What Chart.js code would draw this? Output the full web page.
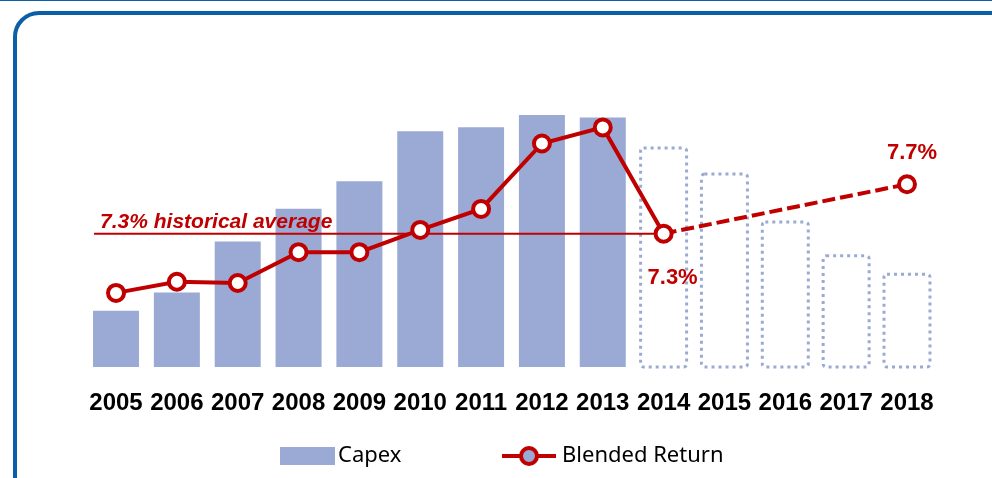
<!DOCTYPE html>
<html>
<head>
<meta charset="utf-8">
<script src="https://cdn.jsdelivr.net/npm/chart.js@4/dist/chart.umd.min.js"></script>
<style>
  html, body { margin: 0; padding: 0; background: #fff; overflow: hidden; }
  .wrap { position: relative; width: 992px; height: 478px; }
  .topline { position: absolute; left: 0; top: 0; width: 992px; height: 1px; background: #0b5ea8; }
  .frame { position: absolute; left: 13px; top: 11px; width: 1100px; height: 600px;
           border: 4px solid #0b5ea8; border-radius: 26px; }
  canvas { position: absolute; left: 0; top: 0; }
</style>
</head>
<body>
<div class="wrap">
  <div class="topline"></div>
  <div class="frame"></div>
  <canvas id="chart" width="992" height="478"></canvas>
</div>
<script>
// years on the x axis
var years = ['2005', '2006', '2007', '2008', '2009', '2010', '2011', '2012', '2013',
             '2014', '2015', '2016', '2017', '2018'];
// capex, 2014 onwards is forecast
var capex = [11.0, 14.6, 24.6, 31.0, 36.4, 46.2, 47.0, 49.4, 48.9, 42.9, 37.8, 28.4, 21.8, 18.2];
// blended return (%), only 2014 and 2018 given for the forecast
var blendedReturn = [6.82, 6.91, 6.90, 7.15, 7.15, 7.33, 7.50, 8.03, 8.16, 7.3, null, null, null, 7.7];
var historicalAverage = 7.3;
var firstForecast = 9;

var blue = 'rgb(155, 170, 212)';
var red = 'rgb(192, 0, 0)';

// dotted forecast bars, average line and the labels
var overlay = {
    id: 'overlay',
    afterDatasetDraw: function (chart, args) {
        if (args.index !== 0) return;
        var ctx = chart.ctx;
        var bars = chart.getDatasetMeta(0).data;
        ctx.save();
        ctx.strokeStyle = blue;
        ctx.lineWidth = 3;
        ctx.setLineDash([3, 4]);
        for (var i = firstForecast; i < bars.length; i++) {
            var b = bars[i];
            ctx.beginPath();
            ctx.roundRect(b.x - b.width / 2, b.y, b.width, b.base - b.y, 3);
            ctx.stroke();
        }
        ctx.setLineDash([]);

        var y1 = chart.scales.y1;
        var avgY = y1.getPixelForValue(historicalAverage);
        var pts = chart.getDatasetMeta(1).data;
        var x0 = bars[0].x - bars[0].width / 2 + 1;
        ctx.strokeStyle = red;
        ctx.lineWidth = 2;
        ctx.beginPath();
        ctx.moveTo(x0, avgY);
        ctx.lineTo(pts[firstForecast].x, avgY);
        ctx.stroke();

        ctx.fillStyle = red;
        ctx.textBaseline = 'alphabetic';
        ctx.textAlign = 'left';
        ctx.font = 'italic bold 21px "Liberation Sans", Arial, sans-serif';
        ctx.fillText(historicalAverage.toFixed(1) + '% historical average', x0 + 6, avgY - 6);
        ctx.restore();
    },
    afterDatasetsDraw: function (chart) {
        var ctx = chart.ctx;
        var pts = chart.getDatasetMeta(1).data;
        var last = pts.length - 1;
        ctx.save();
        ctx.fillStyle = red;
        ctx.textAlign = 'center';
        ctx.textBaseline = 'alphabetic';
        ctx.font = 'bold 22px "Liberation Sans", Arial, sans-serif';
        ctx.fillText(blendedReturn[last].toFixed(1) + '%', pts[last].x + 5, pts[last].y - 25);
        ctx.fillText(blendedReturn[firstForecast].toFixed(1) + '%', pts[firstForecast].x + 9, pts[firstForecast].y + 50);

        // legend
        var lx = chart.width / 2 - 216;
        var ly = 456;
        ctx.fillStyle = blue;
        ctx.fillRect(lx, ly - 9, 55, 18);
        ctx.fillStyle = '#000';
        ctx.textAlign = 'left';
        ctx.textBaseline = 'middle';
        ctx.font = '22px "Noto Sans", sans-serif';
        ctx.fillText('Capex', lx + 58, ly);

        var mx = lx + 222;
        ctx.strokeStyle = red;
        ctx.lineWidth = 4;
        ctx.beginPath();
        ctx.moveTo(mx, ly);
        ctx.lineTo(mx + 54, ly);
        ctx.stroke();
        ctx.beginPath();
        ctx.arc(mx + 27, ly, 8, 0, Math.PI * 2);
        ctx.fillStyle = blue;
        ctx.fill();
        ctx.stroke();
        ctx.fillStyle = '#000';
        ctx.fillText('Blended Return', mx + 60, ly);
        ctx.restore();
    }
};

var ctx = document.getElementById('chart').getContext('2d');
var myChart = new Chart(ctx, {
    type: 'bar',
    data: {
        labels: years,
        datasets: [{
            label: 'Capex',
            data: capex,
            backgroundColor: capex.map(function (v, i) { return i < firstForecast ? blue : 'rgba(0,0,0,0)'; }),
            borderWidth: 0,
            yAxisID: 'y',
            order: 1,
            categoryPercentage: 1,
            barPercentage: 0.756
        }, {
            label: 'Blended Return',
            type: 'line',
            data: blendedReturn,
            yAxisID: 'y1',
            order: 0,
            spanGaps: true,
            borderColor: red,
            borderWidth: 4,
            pointRadius: 8,
            pointBorderWidth: 4,
            pointBackgroundColor: '#fff',
            pointBorderColor: red,
            segment: {
                borderDash: function (c) { return c.p0DataIndex >= firstForecast ? [13, 5] : undefined; }
            }
        }]
    },
    options: {
        responsive: false,
        animation: false,
        layout: { padding: { left: 85.6, right: 54.6, top: 20, bottom: 60 } },
        plugins: { legend: { display: false }, tooltip: { enabled: false } },
        scales: {
            x: {
                grid: { display: false, drawTicks: false },
                border: { display: false },
                ticks: {
                    color: '#000',
                    padding: 22,
                    autoSkip: false,
                    maxRotation: 0,
                    font: { family: '"Liberation Sans", Arial, sans-serif', size: 24, weight: 'bold' }
                },
                afterFit: function (axis) { axis.height = 51; }
            },
            y: { display: false, min: 0, max: 68 },
            y1: { display: false, min: 6.22, max: 9.03 }
        }
    },
    plugins: [overlay]
});
</script>
</body>
</html>
